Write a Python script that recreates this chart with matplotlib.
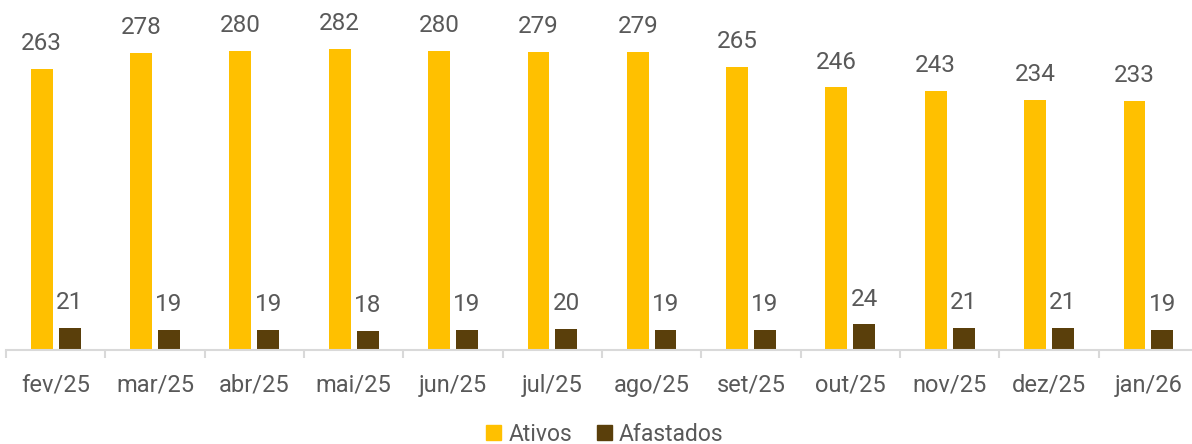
import numpy as np
import matplotlib.pyplot as plt
from matplotlib.patches import Patch

plt.rcParams['font.family'] = ['Roboto', 'DejaVu Sans']

meses = ['fev/25', 'mar/25', 'abr/25', 'mai/25', 'jun/25', 'jul/25',
         'ago/25', 'set/25', 'out/25', 'nov/25', 'dez/25', 'jan/26']
ativos = [263, 278, 280, 282, 280, 279, 279, 265, 246, 243, 234, 233]
afastados = [21, 19, 19, 18, 19, 20, 19, 19, 24, 21, 21, 19]

COR_ATIVOS = '#FFC000'
COR_AFAST = '#5A3F0B'
COR_TEXTO = '#595959'

fig = plt.figure(figsize=(11.92, 4.44), dpi=100)
ax = fig.add_axes([6 / 1192, 94 / 444, 1192 / 1192, 350 / 444])

x = np.arange(len(meses))
w = 0.22
off = 0.14
b1 = ax.bar(x - off, ativos, w, color=COR_ATIVOS)
b2 = ax.bar(x + off, afastados, w, color=COR_AFAST)

for bars, vals in ((b1, ativos), (b2, afastados)):
    for r, v in zip(bars, vals):
        ax.annotate(str(v), (r.get_x() + r.get_width() / 2, r.get_height()),
                    xytext=(0, 10), textcoords='offset points',
                    ha='center', va='bottom', fontsize=17.5, color=COR_TEXTO,
                    clip_on=False)

ax.set_xlim(-0.5, len(meses) - 0.5)
ax.set_ylim(0, 328)
ax.set_yticks([])
for s in ('top', 'right', 'left'):
    ax.spines[s].set_visible(False)
ax.spines['bottom'].set_color('#d9d9d9')
ax.spines['bottom'].set_linewidth(1.5)

ax.set_xticks(x)
ax.set_xticklabels(meses, fontsize=17, color=COR_TEXTO)
ax.tick_params(axis='x', which='major', length=0, pad=17)
ax.set_xticks(np.arange(-0.5, len(meses)), minor=True)
ax.tick_params(axis='x', which='minor', length=6, width=1.5, color='#d9d9d9')

handles = [Patch(color=COR_ATIVOS, label='Ativos'),
           Patch(color=COR_AFAST, label='Afastados')]
fig.legend(handles=handles, loc='center', bbox_to_anchor=(605 / 1192, 1 - 434 / 444),
           ncol=2, frameon=False, fontsize=16.5, labelcolor=COR_TEXTO,
           handlelength=0.65, handleheight=0.65, handletextpad=0.3, columnspacing=1.1)

fig.savefig('out.png', dpi=100)
